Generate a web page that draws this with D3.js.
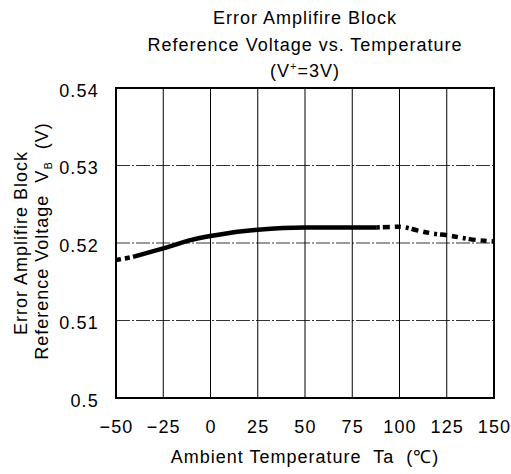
<!DOCTYPE html>
<html><head><meta charset="utf-8">
<script src="https://cdn.jsdelivr.net/npm/d3@7"></script>
<style>body{margin:0;background:#fff;} text{font-family:"Liberation Sans",Arial,sans-serif;fill:#000;}</style>
</head><body>
<svg id="c" width="511" height="474"></svg>
<script>
const xTicks = [-50, -25, 0, 25, 50, 75, 100, 125, 150];
const yTicks = [0.5, 0.51, 0.52, 0.53, 0.54];
const yTickLabels = ["0.5", "0.51", "0.52", "0.53", "0.54"];
const temps = [-50, -41, -25, -10, 0, 10, 25, 50, 75, 88, 100, 110, 118, 125, 137, 150];
const vb = [0.5178, 0.5182, 0.5193, 0.5204, 0.5209, 0.5213, 0.5217, 0.5220, 0.5220, 0.5220, 0.5221, 0.5216, 0.5212, 0.5210, 0.5205, 0.5202];
const solidFrom = -41, solidTo = 88;
const titleLines = ["Error Amplifire Block", "Reference Voltage vs. Temperature"];

const FF = "'Liberation Sans',Arial,sans-serif";
const svg = d3.select("#c");
const m = {l:116, r:494, t:88, b:398};
const x = d3.scaleLinear().domain([-50,150]).range([m.l, m.r]);
const y = d3.scaleLinear().domain([0.5,0.54]).range([m.b, m.t]);

// grid
svg.append("g").selectAll("line").data(xTicks.slice(1,-1)).join("line")
  .attr("x1", d=>x(d)).attr("x2", d=>x(d)).attr("y1", m.t).attr("y2", m.b)
  .attr("stroke","#000").attr("stroke-width",1);
svg.append("g").selectAll("line").data(yTicks.slice(1,-1)).join("line")
  .attr("x1", m.l).attr("x2", m.r).attr("y1", d=>y(d)).attr("y2", d=>y(d))
  .attr("stroke","#000").attr("stroke-width",0.8).attr("stroke-dasharray","14,2,2,2");

// frame
svg.append("rect").attr("x",m.l).attr("y",m.t).attr("width",m.r-m.l).attr("height",m.b-m.t)
  .attr("fill","none").attr("stroke","#000").attr("stroke-width",2);

// axes labels
const xAxis = d3.axisBottom(x).tickValues(xTicks).tickSize(0).tickPadding(0).tickFormat(d=>d<0?"\u2212"+Math.abs(d):d);
const gx = svg.append("g").attr("transform",`translate(0,${m.b})`).call(xAxis);
gx.select(".domain").remove();
gx.selectAll("text").attr("font-size",18).attr("dy",null).attr("y",35)
  .style("font-family",FF).style("letter-spacing","1.2px");

const yAxis = d3.axisLeft(y).tickValues(yTicks).tickSize(0).tickPadding(17).tickFormat((d,i)=>yTickLabels[i]);
const gy = svg.append("g").attr("transform",`translate(${m.l},0)`).call(yAxis);
gy.select(".domain").remove();
gy.selectAll("text").attr("font-size",18).attr("dy","0.45em").style("font-family",FF).style("letter-spacing","1.2px");

// curve
const pts = temps.map((t,i)=>({t, v:vb[i]}));
const line = d3.line().x(d=>x(d.t)).y(d=>y(d.v)).curve(d3.curveMonotoneX);
const seg = (a,b)=>pts.filter(d=>d.t>=a && d.t<=b);
svg.append("path").attr("d", line(seg(-50, solidFrom))).attr("fill","none").attr("stroke","#000")
  .attr("stroke-width",4.5).attr("stroke-dasharray","5,4");
svg.append("path").attr("d", line(seg(solidFrom, solidTo))).attr("fill","none").attr("stroke","#000")
  .attr("stroke-width",4.5);
svg.append("path").attr("d", line(seg(solidTo, 150))).attr("fill","none").attr("stroke","#000")
  .attr("stroke-width",4.5).attr("stroke-dasharray","3,3,7,5,6,5");

// titles
const cx = (m.l+m.r)/2;
const ls = "1px";
svg.append("text").attr("x",cx).attr("y",24).attr("text-anchor","middle").attr("font-size",18).style("letter-spacing",ls).text(titleLines[0]);
svg.append("text").attr("x",cx).attr("y",51).attr("text-anchor","middle").attr("font-size",18).style("letter-spacing",ls).text(titleLines[1]);
const t3 = svg.append("text").attr("x",cx).attr("y",77).attr("text-anchor","middle").attr("font-size",18).style("letter-spacing",ls);
t3.append("tspan").text("(V");
t3.append("tspan").attr("font-size",11).attr("dy",-7).text("+");
t3.append("tspan").attr("dy",7).text("=3V)");

svg.append("text").attr("x",cx).attr("y",463).attr("text-anchor","middle").attr("font-size",18)
  .style("letter-spacing",ls).attr("xml:space","preserve").text("Ambient Temperature  Ta  (\u2103)");

// y title
const yc = (m.t+m.b)/2;
svg.append("text").attr("transform",`translate(27,${yc}) rotate(-90)`).attr("text-anchor","middle").attr("font-size",18)
  .style("letter-spacing",ls).text("Error Amplifire Block");
const yt2 = svg.append("text").attr("transform",`translate(48,${yc-2}) rotate(-90)`).attr("text-anchor","middle").attr("font-size",18)
  .style("letter-spacing",ls).attr("xml:space","preserve");
yt2.append("tspan").text("Reference Voltage  V");
yt2.append("tspan").attr("font-size",11).attr("dy",4).text("B");
yt2.append("tspan").attr("dy",-4).text("  (V)");
</script>
</body></html>
